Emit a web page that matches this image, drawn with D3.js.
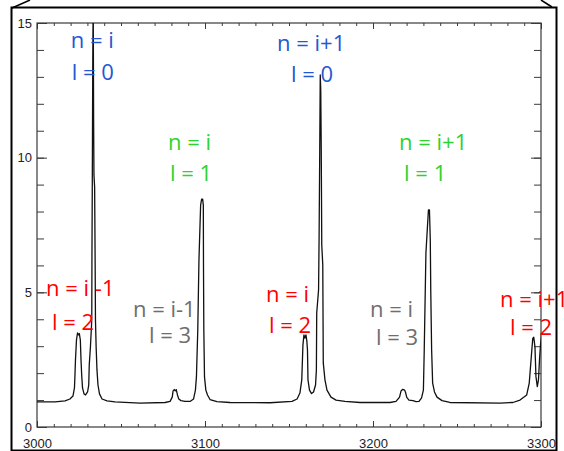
<!DOCTYPE html>
<html>
<head>
<meta charset="utf-8">
<script src="https://cdn.jsdelivr.net/npm/d3@7"></script>
<style>
  body { margin: 0; background: #fff; }
  svg { display: block; }
</style>
</head>
<body>
<svg id="chart" width="564" height="451"></svg>
<script>
// spectrum, point by point
const freq = [
  3000.0, 3010.7, 3016.7, 3019.6, 3021.4, 3022.3, 3022.6, 3022.9, 3023.5, 3024.1,
  3024.7, 3025.2, 3025.8, 3026.2, 3026.6, 3027.1, 3028.0, 3028.9, 3030.1, 3030.8,
  3031.1, 3031.8, 3032.6, 3032.7, 3032.9, 3033.2, 3033.45, 3033.7, 3033.9, 3034.3,
  3034.6, 3034.8, 3035.2, 3035.7, 3036.3, 3037.2, 3038.7, 3041.7, 3046.4, 3061.3,
  3076.2, 3079.2, 3080.5, 3081.0, 3081.7, 3082.3, 3082.9, 3083.6, 3084.4, 3085.7,
  3088.1, 3091.1, 3093.2, 3094.3, 3094.9, 3095.7, 3096.4, 3097.4, 3098.0, 3098.6,
  3099.0, 3099.1, 3099.3, 3099.7, 3100.5, 3101.5, 3103.0, 3107.1, 3114.9, 3138.7,
  3151.8, 3154.8, 3156.5, 3157.6, 3158.3, 3158.9, 3159.5, 3160.1, 3160.6, 3161.0,
  3161.3, 3162.2, 3163.4, 3164.6, 3165.8, 3166.3, 3166.5, 3167.6, 3167.9, 3168.3,
  3168.6, 3168.9, 3169.2, 3169.5, 3170.1, 3170.4, 3171.4, 3172.6, 3175.0, 3178.0,
  3183.3, 3192.3,
  3210.1, 3213.7, 3215.8, 3216.7, 3217.7, 3218.8, 3219.3, 3220.1, 3221.4, 3223.8,
  3225.6, 3227.4, 3228.9, 3230.0, 3230.5, 3231.5, 3232.3, 3233.0, 3233.6, 3234.1,
  3234.4, 3234.9, 3235.5, 3236.6, 3238.1, 3241.1, 3245.8,
  3275.6, 3283.3, 3287.5, 3291.5, 3293.0, 3294.4, 3295.1, 3295.7, 3296.4, 3297.0,
  3297.8, 3298.5, 3299.1, 3299.7, 3300.6
];
const intensity = [
  0.93, 0.93, 0.97, 1.04, 1.15, 1.45, 1.93, 2.49, 3.23, 3.49,
  3.42, 3.47, 3.23, 2.49, 1.93, 1.45, 1.23, 1.19, 1.30, 1.56,
  2.30, 2.97, 3.97, 6.20, 8.80, 13.63, 16.0, 11.4, 9.36, 8.91,
  6.20, 3.97, 2.97, 2.12, 1.56, 1.23, 1.04, 0.97, 0.93, 0.89,
  0.91, 0.95, 1.11, 1.34, 1.39, 1.34, 1.39, 1.19, 1.04, 0.98,
  0.95, 0.95, 1.04, 1.37, 1.86, 3.60, 6.20, 8.24, 8.46, 8.46,
  8.24, 6.00, 3.60, 1.86, 1.37, 1.19, 1.02, 0.94, 0.91, 0.90,
  0.95, 1.04, 1.26, 1.75, 3.05, 3.42, 3.30, 3.42, 3.20, 2.86,
  1.75, 1.37, 1.24, 1.30, 1.56, 2.12, 4.23, 5.09, 6.94, 10.29,
  13.07, 12.51, 10.29, 6.76, 6.02, 2.38, 1.75, 1.37, 1.11, 1.00,
  0.95, 0.91,
  0.91, 0.95, 1.11, 1.34, 1.40, 1.37, 1.30, 1.10, 1.00, 0.98,
  0.94, 0.95, 1.08, 1.37, 2.86, 6.46, 7.32, 8.06, 8.06, 6.94,
  4.98, 2.86, 1.63, 1.30, 1.11, 0.98, 0.91,
  0.89, 0.91, 1.00, 1.19, 1.63, 2.75, 3.29, 3.33, 2.98, 1.87,
  1.50, 1.75, 2.49, 3.04, 3.60
];

const xMajor = [3000, 3100, 3200, 3300];
const yMajor = [0, 5, 10, 15];

// annotations: one line of text each, anchored in data units
const labelText = [
  'n = i', 'l = 0', 'n = i+1', 'l = 0',
  'n = i', 'l = 1', 'n = i+1', 'l = 1',
  'n = i -1', 'l = 2', 'n = i', 'l = 2', 'n = i+1', 'l = 2',
  'n = i-1', 'l = 3', 'n = i', 'l = 3'
];
const labelL = [0, 0, 0, 0, 1, 1, 1, 1, 2, 2, 2, 2, 2, 2, 3, 3, 3, 3];
const labelFreq = [
  3020.1, 3020.7, 3142.9, 3151.2,
  3078.0, 3079.2, 3215.5, 3218.5,
  3005.4, 3008.9, 3136.3, 3138.1, 3275.6, 3281.5,
  3057.1, 3066.7, 3198.2, 3201.8
];
const labelLevel = [
  14.07, 12.89, 13.96, 12.81,
  10.29, 9.13, 10.29, 9.13,
  4.86, 3.60, 4.64, 3.49, 4.46, 3.42,
  4.08, 3.12, 4.08, 3.04
];

const lColors = ['#2457d2', '#2ed22e', '#ff0000', '#6e6e6e'];

const plotLeft = 37, plotRight = 541, plotTop = 23, plotBottom = 427;

const x = d3.scaleLinear().domain([3000, 3300]).range([plotLeft, plotRight]);
const y = d3.scaleLinear().domain([0, 15]).range([plotBottom, plotTop]);
const color = d3.scaleOrdinal().domain([0, 1, 2, 3]).range(lColors);

const svg = d3.select('#chart');

// outer frame
svg.append('rect')
  .attr('x', 11.5).attr('y', 7.5)
  .attr('width', 545).attr('height', 443)
  .attr('fill', 'none').attr('stroke', '#000').attr('stroke-width', 2);
svg.append('line')
  .attr('x1', 12).attr('y1', 8).attr('x2', 30).attr('y2', 0)
  .attr('stroke', '#000').attr('stroke-width', 1.5);
svg.append('line')
  .attr('x1', 552).attr('y1', 7).attr('x2', 541).attr('y2', 0)
  .attr('stroke', '#000').attr('stroke-width', 1.5);

svg.append('clipPath').attr('id', 'plot-clip')
  .append('rect')
  .attr('x', plotLeft).attr('y', plotTop)
  .attr('width', plotRight - plotLeft).attr('height', plotBottom - plotTop);

const axisColor = '#3a3a3a';

function styleAxis(g) {
  g.select('.domain').remove();
  g.selectAll('.tick line').attr('stroke', axisColor);
  g.selectAll('.tick text')
    .attr('fill', '#222')
    .attr('font-family', '"Liberation Sans", Arial, sans-serif');
}

const xMinor = d3.range(3000, 3301, 10);
const yMinor = d3.range(0, 16, 1);

// bottom
svg.append('g').attr('transform', `translate(0,${plotBottom})`)
  .call(d3.axisBottom(x).tickValues(xMinor).tickSizeInner(-3).tickSizeOuter(0).tickFormat(''))
  .call(styleAxis);
svg.append('g').attr('transform', `translate(0,${plotBottom})`)
  .call(d3.axisBottom(x).tickValues(xMajor).tickSizeInner(-6).tickSizeOuter(0)
    .tickPadding(12).tickFormat(d3.format('d')))
  .call(styleAxis)
  .call(g => g.selectAll('.tick text').attr('font-size', 13));

// top
svg.append('g').attr('transform', `translate(0,${plotTop})`)
  .call(d3.axisTop(x).tickValues(xMinor).tickSizeInner(-3).tickSizeOuter(0).tickFormat(''))
  .call(styleAxis);
svg.append('g').attr('transform', `translate(0,${plotTop})`)
  .call(d3.axisTop(x).tickValues(xMajor).tickSizeInner(-6).tickSizeOuter(0).tickFormat(''))
  .call(styleAxis);

// left
svg.append('g').attr('transform', `translate(${plotLeft},0)`)
  .call(d3.axisLeft(y).tickValues(yMinor).tickSizeInner(-7).tickSizeOuter(0).tickFormat(''))
  .call(styleAxis);
svg.append('g').attr('transform', `translate(${plotLeft},0)`)
  .call(d3.axisLeft(y).tickValues(yMajor).tickSizeInner(-10).tickSizeOuter(0)
    .tickPadding(5).tickFormat(d3.format('d')))
  .call(styleAxis)
  .call(g => g.selectAll('.tick text').attr('font-size', 13));

// right
svg.append('g').attr('transform', `translate(${plotRight},0)`)
  .call(d3.axisRight(y).tickValues(yMinor).tickSizeInner(-7).tickSizeOuter(0).tickFormat(''))
  .call(styleAxis);
svg.append('g').attr('transform', `translate(${plotRight},0)`)
  .call(d3.axisRight(y).tickValues(yMajor).tickSizeInner(-10).tickSizeOuter(0).tickFormat(''))
  .call(styleAxis);

// plot box
svg.append('rect')
  .attr('x', plotLeft).attr('y', plotTop)
  .attr('width', plotRight - plotLeft).attr('height', plotBottom - plotTop)
  .attr('fill', 'none').attr('stroke', axisColor).attr('stroke-width', 1.2);

// spectrum
const line = d3.line()
  .x(i => x(freq[i]))
  .y(i => y(intensity[i]));

svg.append('path')
  .datum(d3.range(freq.length))
  .attr('clip-path', 'url(#plot-clip)')
  .attr('fill', 'none')
  .attr('stroke', '#111')
  .attr('stroke-width', 1.3)
  .attr('stroke-linejoin', 'round')
  .attr('d', line);

// annotations
svg.append('g')
  .attr('font-family', '"Open Sans", "Noto Sans", sans-serif')
  .attr('font-size', 22)
  .selectAll('text')
  .data(d3.range(labelText.length))
  .join('text')
  .attr('x', i => x(labelFreq[i]))
  .attr('y', i => y(labelLevel[i]))
  .attr('fill', i => color(labelL[i]))
  .attr('xml:space', 'preserve')
  .text(i => labelText[i]);
</script>
</body>
</html>
